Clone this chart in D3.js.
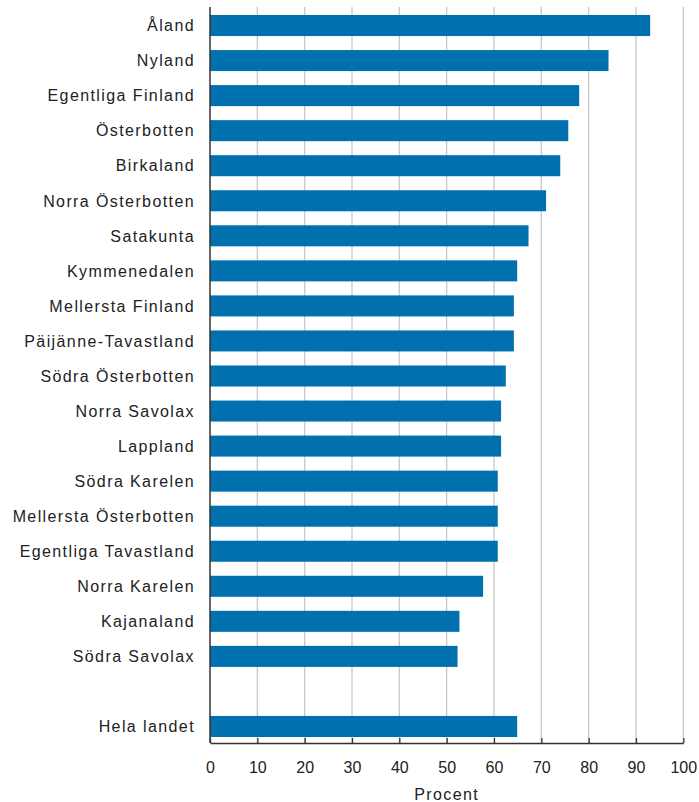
<!DOCTYPE html>
<html>
<head>
<meta charset="utf-8">
<script src="https://cdn.jsdelivr.net/npm/d3@7"></script>
<style>
  body { margin: 0; background: #fff; }
  text { font-family: "Liberation Sans", Arial, sans-serif; fill: #222; }
</style>
</head>
<body>
<div id="chart"></div>
<script>
// regions, sorted as in the picture; "" is the empty gap row
var regions = ["Åland", "Nyland", "Egentliga Finland", "Österbotten", "Birkaland",
  "Norra Österbotten", "Satakunta", "Kymmenedalen", "Mellersta Finland",
  "Päijänne-Tavastland", "Södra Österbotten", "Norra Savolax", "Lappland",
  "Södra Karelen", "Mellersta Österbotten", "Egentliga Tavastland",
  "Norra Karelen", "Kajanaland", "Södra Savolax", "", "Hela landet"];
var values = [93.0, 84.2, 78.0, 75.7, 74.0, 71.0, 67.3, 64.9, 64.2, 64.2,
  62.5, 61.5, 61.5, 60.8, 60.8, 60.8, 57.7, 52.7, 52.3, null, 64.9];
var xTicks = [0, 10, 20, 30, 40, 50, 60, 70, 80, 90, 100];
var xTitle = "Procent";

var W = 699, H = 802;
// plot edges (window.top is reserved, so use other names)
var plotLeft = 210, plotRight = 683.3, plotTop = 8, plotBottom = 743;

var data = regions.map(function(r, i) { return {key: "r" + i, name: r, value: values[i]}; });

var svg = d3.select("#chart").append("svg")
    .attr("width", W)
    .attr("height", H);

var x = d3.scaleLinear().domain([0, 100]).range([plotLeft, plotRight]);
var y = d3.scaleBand()
    .domain(data.map(function(d) { return d.key; }))
    .range([plotTop, plotBottom + 1])
    .paddingInner(0.4)
    .paddingOuter(0.2);

// vertical gridlines
svg.append("g")
  .selectAll("line")
  .data(xTicks.slice(1))
  .enter().append("line")
    .attr("x1", function(d) { return x(d); })
    .attr("x2", function(d) { return x(d); })
    .attr("y1", plotTop - 1)
    .attr("y2", plotBottom)
    .attr("stroke", "#c8c8c8")
    .attr("stroke-width", 1.3);

// bars
svg.append("g")
  .selectAll("rect")
  .data(data.filter(function(d) { return d.value != null; }))
  .enter().append("rect")
    .attr("x", x(0))
    .attr("y", function(d) { return y(d.key); })
    .attr("width", function(d) { return x(d.value) - x(0); })
    .attr("height", y.bandwidth())
    .attr("fill", "#0071ae");

// category labels
svg.append("g")
  .selectAll("text")
  .data(data)
  .enter().append("text")
    .attr("x", plotLeft - 15)
    .attr("y", function(d) { return y(d.key) + y.bandwidth() / 2; })
    .attr("dy", "0.36em")
    .attr("text-anchor", "end")
    .style("font-size", "16px")
    .style("letter-spacing", "1.4px")
    .text(function(d) { return d.name; });

// x axis
var xAxis = svg.append("g")
    .attr("transform", "translate(0," + plotBottom + ")")
    .call(d3.axisBottom(x).tickValues(xTicks).tickSizeInner(-5).tickSizeOuter(0).tickPadding(19));
xAxis.select(".domain").attr("stroke", "#333").attr("stroke-width", 1.5);
xAxis.selectAll(".tick line").attr("stroke", "#333").attr("stroke-width", 1.3);
xAxis.selectAll(".tick text")
    .style("font-size", "16px")
    .style("font-family", "'Liberation Sans', Arial, sans-serif")
    .attr("fill", "#222");

// y axis line
svg.append("line")
    .attr("x1", plotLeft).attr("x2", plotLeft)
    .attr("y1", plotTop - 1).attr("y2", plotBottom)
    .attr("stroke", "#333")
    .attr("stroke-width", 1.5);

// axis title
svg.append("text")
    .attr("x", (plotLeft + plotRight) / 2)
    .attr("y", 800)
    .attr("text-anchor", "middle")
    .style("font-size", "16px")
    .style("letter-spacing", "1.4px")
    .text(xTitle);
</script>
</body>
</html>
